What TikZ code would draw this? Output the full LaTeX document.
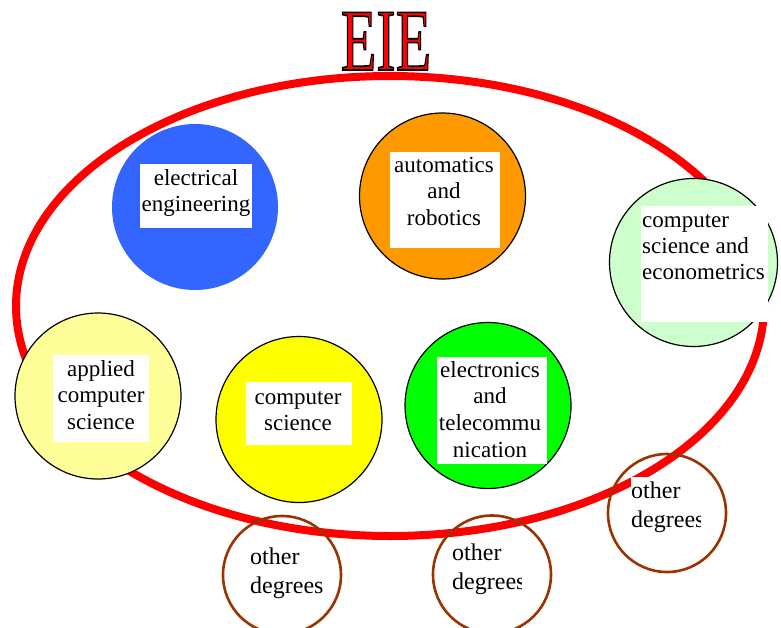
\documentclass[tikz,border=0pt]{standalone}
\usepackage{fontspec}
\setmainfont{Liberation Serif}
\usepackage{graphicx}
\definecolor{eeblue}{HTML}{3366FF}
\definecolor{arorange}{HTML}{FF9900}
\definecolor{ecgreen}{HTML}{CCFFCC}
\definecolor{acyellow}{HTML}{FFFF99}
\definecolor{csyellow}{HTML}{FFFF00}
\definecolor{etgreen}{HTML}{00FF00}
\definecolor{degbrown}{HTML}{993300}
\definecolor{eiered}{HTML}{FF0000}
\newcommand{\titletext}{\fontsize{88}{88}\selectfont\special{pdf:literal direct 2 Tr 0 0 0 RG 1.6 w}\scalebox{0.66}[1]{EIE}\special{pdf:literal direct 0 Tr}}
\begin{document}
\begin{tikzpicture}[x=1pt,y=-1pt,
  disc/.style={circle, inner sep=0pt, minimum size=166pt, draw=black, line width=1.2pt},
  wbox/.style={fill=white, inner sep=0pt, anchor=north west},
  lbl/.style={font=\fontsize{23}{26.6}\selectfont, align=center, inner sep=0pt, anchor=north},
  lbll/.style={font=\fontsize{23}{26}\selectfont, align=left, inner sep=0pt, anchor=north west},
  odeg/.style={circle, draw=degbrown, line width=2.6pt, minimum size=118pt, inner sep=0pt},
  olbl/.style={font=\fontsize{24}{29}\selectfont, align=left, inner sep=0pt, anchor=north west},
  ttl/.style={inner sep=0pt, anchor=base}
]
\useasboundingbox (0,0) rectangle (781,627);
% big ellipse
\draw[eiered, line width=8pt] (390,306) ellipse [x radius=374pt, y radius=230pt];
% title, red with black outline
\node[ttl, text=eiered] (title) at (386,70) {\titletext};
% electrical engineering
\node[disc, fill=eeblue, draw=none] (ee) at (195,207) {};
\node[wbox, minimum width=112pt, minimum height=64pt] (eebox) at (140,164) {};
\node[lbl] (eetext) at (196,185-17) {\rule{0pt}{17pt}electrical\\engineering};
% automatics and robotics
\node[disc, fill=arorange] (ar) at (442.5,196) {};
\node[wbox, minimum width=110pt, minimum height=96pt] (arbox) at (390,152) {};
\node[lbl] (artext) at (444,172-17) {\rule{0pt}{17pt}automatics\\and\\robotics};
% computer science and econometrics
\node[disc, fill=ecgreen, minimum size=168pt] (ec) at (693.5,262.5) {};
\node[wbox, minimum width=127pt, minimum height=116pt] (ecbox) at (641,206) {};
\node[lbll] (ectext) at (642,227-17) {\rule{0pt}{17pt}computer\\science and\\econometrics};
% applied computer science
\node[disc, fill=acyellow] (ac) at (98,396) {};
\node[wbox, minimum width=96pt, minimum height=87pt] (acbox) at (53,355) {};
\node[lbl] (actext) at (101,376-17) {\rule{0pt}{17pt}applied\\computer\\science};
% computer science
\node[disc, fill=csyellow] (cs) at (299,419.5) {};
\node[wbox, minimum width=106pt, minimum height=63pt] (csbox) at (246,382) {};
\node[lbl] (cstext) at (298,404-17) {\rule{0pt}{17pt}computer\\science};
% electronics and telecommunication
\node[disc, fill=etgreen] (et) at (488,405.5) {};
\node[wbox, minimum width=110pt, minimum height=107pt] (etbox) at (437,357) {};
\node[lbl] (ettext) at (490,377-17) {\rule{0pt}{17pt}electronics\\and\\telecommu\\nication};
% other degrees 1 (right)
\node[odeg] (od1) at (667,513) {};
\begin{scope}
  \clip (631,477) rectangle (700,542);
  \node[wbox, minimum width=69pt, minimum height=65pt] (od1box) at (631,477) {};
  \node[olbl] (od1text) at (631,498-18) {\rule{0pt}{18pt}other\\degrees};
\end{scope}
% other degrees 2 (bottom left)
\node[odeg] (od2) at (282,575) {};
\node[olbl] (od2text) at (250,564-18) {\rule{0pt}{18pt}other\\degrees};
% other degrees 3 (bottom middle)
\node[odeg] (od3) at (492,574.5) {};
\begin{scope}
  \clip (452,540) rectangle (521,605);
  \node[wbox, minimum width=69pt, minimum height=65pt] (od3box) at (452,540) {};
  \node[olbl] (od3text) at (452,560-18) {\rule{0pt}{18pt}other\\degrees};
\end{scope}
\end{tikzpicture}
\end{document}
